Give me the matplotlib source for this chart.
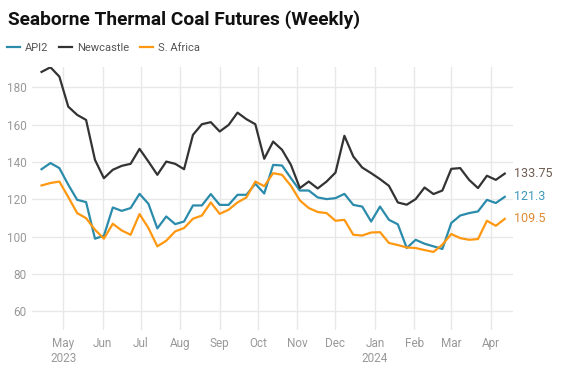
import matplotlib
matplotlib.use("Agg")
import matplotlib.pyplot as plt
import pandas as pd

plt.rcParams['font.family'] = ['Roboto', 'DejaVu Sans']

# weekly settlement values, Apr 14 2023 .. Apr 12 2024
dates = pd.date_range('2023-04-14', periods=53, freq='7D')

newcastle = [188.2, 190.7, 185.7, 169.6, 165.2, 162.5, 141.1, 131.3, 135.8, 137.9,
             139.0, 147.0, 140.2, 133.1, 140.2, 139.0, 136.1, 154.5, 160.2, 161.3,
             156.3, 159.8, 166.4, 162.9, 160.2, 141.7, 150.9, 146.5, 138.4, 126.0,
             129.5, 125.8, 129.5, 134.3, 154.0, 142.9, 137.0, 134.0, 130.8, 127.2,
             118.3, 117.1, 120.1, 126.3, 122.8, 124.7, 136.3, 136.7, 130.4, 126.0,
             132.6, 130.4, 133.75]
api2 = [136.1, 139.4, 136.7, 127.8, 119.7, 118.5, 98.9, 100.5, 115.6, 113.8,
        115.3, 122.9, 117.6, 104.4, 110.8, 106.7, 108.1, 116.7, 116.7, 122.8,
        117.0, 117.0, 122.4, 122.4, 128.3, 123.1, 138.4, 138.1, 131.3, 124.7,
        124.7, 121.0, 120.1, 120.6, 122.9, 117.0, 116.1, 108.1, 116.1, 109.0,
        106.6, 93.9, 98.3, 96.2, 94.8, 93.4, 107.3, 111.3, 112.6, 113.5,
        119.7, 118.0, 121.3]
safrica = [127.4, 128.7, 129.5, 121.2, 112.6, 109.9, 103.7, 98.9, 106.9, 103.3,
           101.0, 112.1, 104.6, 94.8, 97.8, 102.8, 104.6, 109.6, 111.3, 118.3,
           112.2, 114.4, 118.3, 121.0, 129.5, 127.0, 134.0, 133.1, 127.2, 119.4,
           115.3, 113.2, 112.6, 108.5, 109.0, 101.0, 100.6, 102.2, 102.4, 96.6,
           95.5, 94.2, 93.9, 92.8, 91.8, 95.7, 101.4, 99.2, 98.3, 98.7,
           108.5, 105.8, 109.5]

series = [("API2", api2, '#2b8bab', '#3f98b8'),
          ("Newcastle", newcastle, '#333333', '#6e5a50'),
          ("S. Africa", safrica, '#ff9810', '#e08a35')]

month_ticks = pd.date_range('2023-05-01', '2024-04-01', freq='MS')
month_labels = []
for i, d in enumerate(month_ticks):
    lab = d.strftime('%b')
    if i == 0 or d.month == 1:
        lab += '\n' + d.strftime('%Y')
    month_labels.append(lab)

fig = plt.figure(figsize=(5.64, 3.68), dpi=100)
ax = fig.add_axes([32 / 564, 1 - 330 / 368, (513 - 32) / 564, (330 - 66.7) / 368])

for name, vals, col, lab_col in series:
    ax.plot(dates, vals, color=col, lw=1.6, label=name)
    ax.annotate(f"{vals[-1]:g}", xy=(dates[-1], vals[-1]), xytext=(7, 0),
                textcoords='offset points', va='center', ha='left',
                fontsize=9, color=lab_col, annotation_clip=False)

ax.set_xlim(dates[0] - pd.Timedelta(days=7.5), dates[-1] + pd.Timedelta(days=6.5))
ax.set_ylim(50, 191)
ax.set_yticks([60, 80, 100, 120, 140, 160, 180])
ax.set_xticks(month_ticks)
ax.set_xticklabels(month_labels)

ax.grid(True, color='#e8e8e8', lw=1)
ax.set_axisbelow(True)
for s in ax.spines.values():
    s.set_visible(False)
ax.tick_params(length=0, labelsize=8.5, labelcolor='#999999')
ax.tick_params(axis='x', pad=5)
ax.tick_params(axis='y', pad=4)

fig.text(8 / 564, 1 - 20 / 368, "Seaborne Thermal Coal Futures (Weekly)",
         fontsize=13.8, fontweight='bold', va='center', ha='left', color='#111111')

fig.legend(loc='center left', bbox_to_anchor=(0.0, 1 - 48 / 368), ncol=3,
           frameon=False, fontsize=8, handlelength=1.2, handletextpad=0.4,
           columnspacing=1.0, labelcolor='#555555', borderaxespad=0.2)

fig.savefig('out.png', dpi=100)
